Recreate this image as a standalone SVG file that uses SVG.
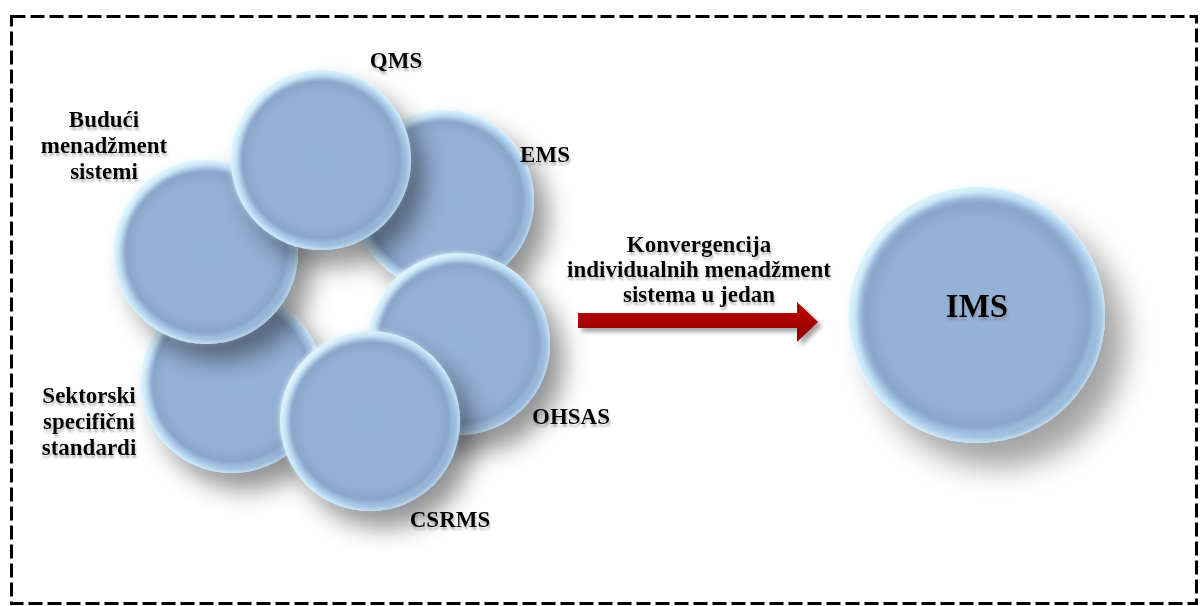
<svg xmlns="http://www.w3.org/2000/svg" width="1200" height="606" viewBox="0 0 1200 606">
  <style>
    .lbl { font-family: "Liberation Serif", "Times New Roman", serif; font-weight: bold; font-size: 23px; fill: #000; text-anchor: middle; filter: url(#txtShadow); }
    .big { font-size: 33px; }
    .disc { fill: url(#discFill); filter: url(#discShadow); }
    .rim { fill: none; stroke: url(#rimLight); stroke-width: 8; filter: url(#soft); }
    .frame { fill: none; stroke: #000; stroke-width: 3; stroke-dasharray: 14 5; }
  </style>
  <defs>
    <radialGradient id="discFill" cx="0.5" cy="0.5" r="0.5">
      <stop offset="0" stop-color="#95B2D7"/>
      <stop offset="0.76" stop-color="#93AFD4"/>
      <stop offset="0.87" stop-color="#89A5CA"/>
      <stop offset="0.95" stop-color="#A6C8E8"/>
      <stop offset="1" stop-color="#D6F1FF"/>
    </radialGradient>
    <linearGradient id="rimLight" x1="0.1" y1="0.15" x2="0.9" y2="0.85">
      <stop offset="0" stop-color="#E8FCFF" stop-opacity="0.85"/>
      <stop offset="0.55" stop-color="#CDEBFF" stop-opacity="0.3"/>
      <stop offset="1" stop-color="#7590B5" stop-opacity="0.45"/>
    </linearGradient>
    <linearGradient id="arrowFill" x1="0" y1="0" x2="0" y2="1">
      <stop offset="0" stop-color="#C00000"/>
      <stop offset="1" stop-color="#8E0000"/>
    </linearGradient>
    <filter id="discShadow" x="-40%" y="-40%" width="190%" height="190%">
      <feDropShadow dx="14" dy="17" stdDeviation="12" flood-color="#000" flood-opacity="0.42"/>
    </filter>
    <filter id="bigShadow" x="-40%" y="-40%" width="190%" height="190%">
      <feDropShadow dx="20" dy="24" stdDeviation="15" flood-color="#000" flood-opacity="0.36"/>
    </filter>
    <filter id="soft" x="-10%" y="-10%" width="120%" height="120%">
      <feGaussianBlur stdDeviation="2.5"/>
    </filter>
    <filter id="txtShadow" x="-10%" y="-20%" width="130%" height="160%">
      <feDropShadow dx="1" dy="3" stdDeviation="1" flood-color="#777" flood-opacity="0.5"/>
    </filter>
    <filter id="arrowShadow" x="-10%" y="-30%" width="130%" height="180%">
      <feDropShadow dx="4" dy="4" stdDeviation="2" flood-color="#000" flood-opacity="0.35"/>
    </filter>
  </defs>

  <!-- dashed outer frame -->
  <rect class="frame" x="11.5" y="16.5" width="1185" height="587"/>

  <!-- ring of management systems (drawn back to front) -->
  <g id="node-sektorski">
    <circle class="disc" cx="232" cy="382" r="91"/>
    <circle class="rim" cx="232" cy="382" r="88"/>
  </g>
  <g id="node-ems">
    <circle class="disc" cx="444" cy="200" r="90"/>
    <circle class="rim" cx="444" cy="200" r="87"/>
  </g>
  <g id="node-buduci">
    <circle class="disc" cx="206" cy="252" r="92"/>
    <circle class="rim" cx="206" cy="252" r="89"/>
  </g>
  <g id="node-qms">
    <circle class="disc" cx="321" cy="160" r="90"/>
    <circle class="rim" cx="321" cy="160" r="87"/>
  </g>
  <g id="node-ohsas">
    <circle class="disc" cx="459" cy="344" r="91"/>
    <circle class="rim" cx="459" cy="344" r="88"/>
  </g>
  <g id="node-csrms">
    <circle class="disc" cx="370" cy="421" r="90"/>
    <circle class="rim" cx="370" cy="421" r="87"/>
  </g>

  <!-- ring labels -->
  <g id="labels">
    <text class="lbl" x="396" y="68">QMS</text>
    <text class="lbl" x="545" y="162">EMS</text>
    <text class="lbl" x="104" y="127">Budući</text>
    <text class="lbl" x="104" y="153">menadžment</text>
    <text class="lbl" x="104" y="179">sistemi</text>
    <text class="lbl" x="89" y="403">Sektorski</text>
    <text class="lbl" x="89" y="429">specifični</text>
    <text class="lbl" x="89" y="455">standardi</text>
    <text class="lbl" x="571" y="424">OHSAS</text>
    <text class="lbl" x="450" y="527">CSRMS</text>
  </g>

  <!-- convergence arrow -->
  <g id="connectors">
    <text class="lbl" x="699" y="252">Konvergencija</text>
    <text class="lbl" x="699" y="277">individualnih menadžment</text>
    <text class="lbl" x="699" y="302">sistema u jedan</text>
    <polygon points="578,313 797,313 797,302 818,322 797,342 797,328 578,328" fill="url(#arrowFill)" filter="url(#arrowShadow)"/>
  </g>

  <!-- integrated system -->
  <g id="node-ims">
    <circle cx="977" cy="315" r="128" fill="url(#discFill)" filter="url(#bigShadow)"/>
    <circle class="rim" cx="977" cy="315" r="124"/>
    <text class="lbl big" x="977" y="317">IMS</text>
  </g>
</svg>
